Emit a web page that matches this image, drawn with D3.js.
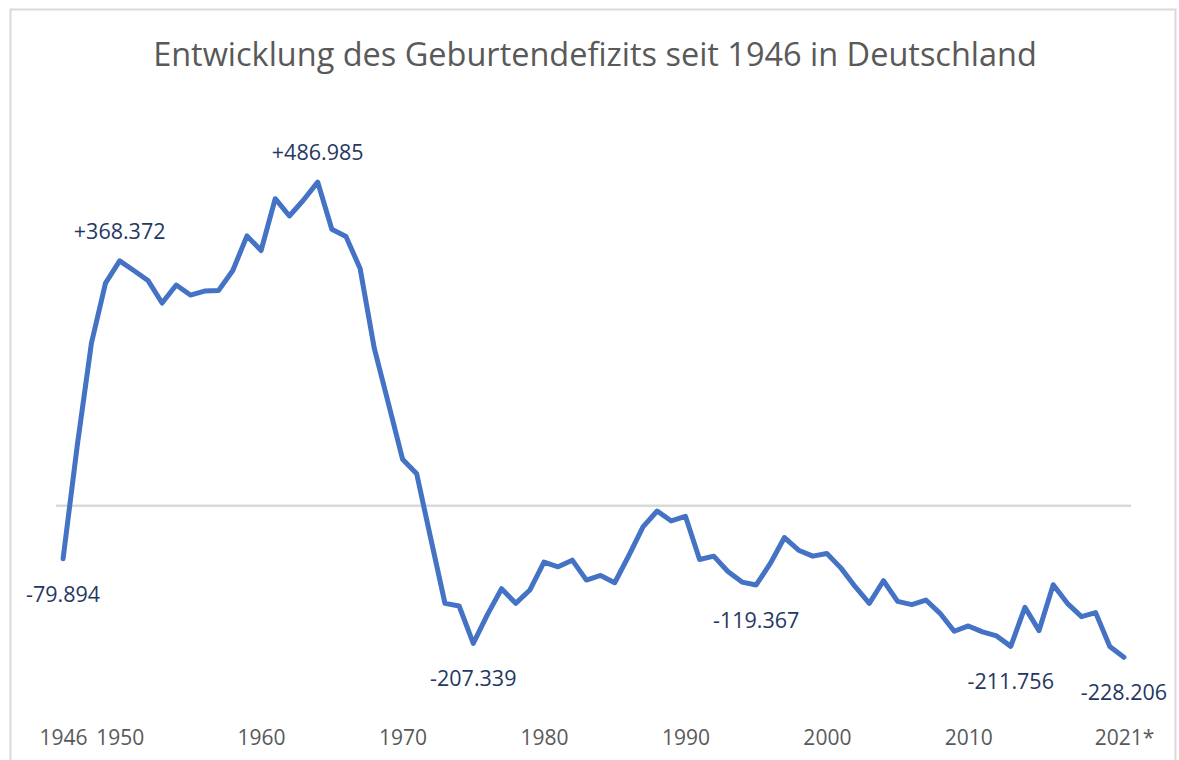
<!DOCTYPE html>
<html>
<head>
<meta charset="utf-8">
<script src="https://cdn.jsdelivr.net/npm/d3@7"></script>
<style>
  html, body { margin: 0; padding: 0; background: #ffffff; }
  svg { display: block; }
</style>
</head>
<body>
<svg id="chart" width="1179" height="760"></svg>
<script>
// ---- data (natural balance: births minus deaths, in thousands) ----
const years = d3.range(1946, 2022);
const values = [
  -79.894, 90, 244, 335, 368.372, 354, 339, 305, 332, 317,
  323, 324, 354, 406, 384, 462, 436, 460, 486.985, 416,
  405, 357, 237, 154, 70, 48, -50, -147, -151, -207.339,
  -164, -125, -147, -127, -85, -92, -82, -112, -105, -116,
  -75, -32, -8, -23, -16, -81, -76, -99, -115, -119.367,
  -87, -48, -67, -76, -72, -94, -122, -147, -113, -144,
  -149, -142, -162, -189, -181, -190, -196, -211.756, -153, -188,
  -119, -147, -167, -161, -212, -228.206
];
const tickYears = [1946, 1950, 1960, 1970, 1980, 1990, 2000, 2010, 2021];
const tickLabels = ["1946", "1950", "1960", "1970", "1980", "1990", "2000", "2010", "2021*"];
const labelYears = [1946, 1950, 1964, 1975, 1995, 2013, 2021];
const labelTexts = ["-79.894", "+368.372", "+486.985", "-207.339", "-119.367", "-211.756", "-228.206"];
const labelAbove = [false, true, true, false, false, false, false];
const titleText = "Entwicklung des Geburtendefizits seit 1946 in Deutschland";

const data = years.map((y, i) => ({ year: y, value: values[i] }));

const svg = d3.select("#chart");
const FONT = "'Open Sans', 'Noto Sans', sans-serif";

// frame
svg.append("rect").attr("x", 0).attr("y", 0).attr("width", 1179).attr("height", 760).attr("fill", "#ffffff");
svg.append("rect")
  .attr("x", 10.5).attr("y", 9.5).attr("width", 1165).attr("height", 800)
  .attr("fill", "none").attr("stroke", "#d9d9d9").attr("stroke-width", 2);

// scales
const x = d3.scalePoint().domain(years).range([56, 1131]).padding(0.5);
const y = d3.scaleLinear().domain([-300, 600]).range([705, 107]);

// title
const title = svg.append("text")
  .attr("x", 595).attr("y", 66)
  .attr("text-anchor", "middle")
  .attr("fill", "#595959")
  .style("font-family", FONT)
  .style("font-size", "36px")
  .text(titleText);
const tl = title.node().getComputedTextLength();
title.style("font-size", (36 * 884 / tl).toFixed(2) + "px");

// zero line
svg.append("line")
  .attr("x1", x.range()[0]).attr("x2", x.range()[1])
  .attr("y1", y(0)).attr("y2", y(0))
  .attr("stroke", "#d9d9d9").attr("stroke-width", 2.5);

// line
const line = d3.line().x(d => x(d.year)).y(d => y(d.value)).curve(d3.curveLinear);
svg.append("path")
  .datum(data)
  .attr("d", line)
  .attr("fill", "none")
  .attr("stroke", "#4472c4")
  .attr("stroke-width", 5)
  .attr("stroke-linejoin", "round")
  .attr("stroke-linecap", "round");

// x axis
const axis = d3.axisBottom(x)
  .tickValues(tickYears)
  .tickFormat(d => tickLabels[tickYears.indexOf(d)])
  .tickSize(0);
const gx = svg.append("g").attr("transform", "translate(0,745)").call(axis);
gx.select(".domain").remove();
gx.selectAll("text")
  .attr("y", 0).attr("dy", 0)
  .attr("fill", "#595959")
  .style("font-family", FONT)
  .style("font-size", "21px");

// data labels
const labels = labelYears.map((yr, i) => ({
  year: yr, text: labelTexts[i], above: labelAbove[i],
  value: values[years.indexOf(yr)]
}));
svg.append("g").selectAll("text")
  .data(labels)
  .join("text")
  .attr("x", d => x(d.year))
  .attr("y", d => y(d.value) + (d.above ? -22 : 43))
  .attr("text-anchor", "middle")
  .attr("fill", "#1f3864")
  .style("font-family", FONT)
  .style("font-size", "21.5px")
  .text(d => d.text);
</script>
</body>
</html>
